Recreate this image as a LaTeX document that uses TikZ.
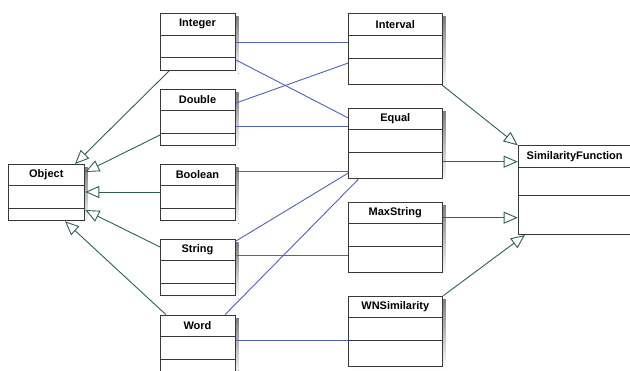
\documentclass[tikz,border=0pt]{standalone}
\usepackage{fontspec}
\setmainfont{Liberation Sans}
\usetikzlibrary{arrows.meta}
\definecolor{assoc}{HTML}{4F62B8}
\definecolor{gen}{HTML}{2F6058}
\definecolor{shade}{HTML}{B5B094}
\definecolor{frame}{HTML}{383838}
\tikzset{
  classbox/.style={draw=frame, line width=1pt, fill=white, inner sep=0pt},
  sepline/.style={draw=frame, line width=0.8pt},
  classname/.style={font=\fontsize{11}{13}\selectfont\bfseries, inner sep=0pt},
  assocline/.style={draw=assoc, line width=0.9pt},
  genline/.style={draw=gen, line width=0.9pt,
    -{Triangle[open, length=14pt, width=12pt, line width=0.9pt]}},
}
% \umlclass{name}{x}{top}{width}{head}{attr}{ops}{label}
\newcommand\umlclass[8]{%
  \fill[shade] (#2+3.5,#3+3.5) rectangle ++(#4,#5+#6+#7);
  \node[classbox, minimum width=#4pt, minimum height={(#5+#6+#7)*1pt},
        anchor=north west] (#1) at (#2,#3) {};
  \draw[sepline] (#2,#3+#5) -- ++(#4,0);
  \draw[sepline] (#2,#3+#5+#6) -- ++(#4,0);
  \node[classname] at (#2+#4/2,#3+#5/2) {#8};
}
\begin{document}
\begin{tikzpicture}[x=1pt,y=-1pt]
\useasboundingbox (0,0) rectangle (630,370);
\clip (0,0) rectangle (630,370);
\fill[white] (0,0) rectangle (630,370);

% classes
\umlclass{integer}{160}{13.3}{75}{21.7}{22.7}{12.3}{Integer}
\umlclass{double}{160}{89}{75}{21.3}{23}{12}{Double}
\umlclass{boolean}{160}{164}{75}{21.3}{23}{12}{Boolean}
\umlclass{object}{8.3}{164}{76}{21.3}{23}{12}{Object}
\umlclass{string}{160}{239.3}{75}{21.4}{22.6}{12}{String}
\umlclass{word}{160}{314.7}{75}{21.3}{23}{14}{Word}
\umlclass{interval}{348.3}{13.3}{94}{21.7}{23}{26}{Interval}
\umlclass{equal}{348.3}{107.7}{94}{21.3}{23.3}{26}{Equal}
\umlclass{maxstring}{348.3}{201.7}{94}{21.6}{22.7}{26}{MaxString}
\umlclass{wnsim}{348.3}{295.7}{94}{21.3}{23}{26}{WNSimilarity}
\umlclass{simfun}{517.7}{145.3}{114}{22}{27.7}{39}{SimilarityFunction}

% associations
\draw[assocline] ([yshift=-28.7pt]integer.north east) -- ([yshift=-28.7pt]interval.north west);
\draw[assocline] ([yshift=-46.7pt]integer.north east) -- ([yshift=-10.3pt]equal.north west);
\draw[assocline] ([yshift=-14pt]double.north east) -- ([yshift=-49.7pt]interval.north west);
\draw[assocline] ([yshift=-37pt]double.north east) -- ([yshift=-18.3pt]equal.north west);
\draw[assocline] ([yshift=-7pt]boolean.north east) -- ([yshift=-63.3pt]equal.north west);
\draw[assocline] ([yshift=-1.7pt]string.north east) -- ([yshift=-65.3pt]equal.north west);
\draw[assocline] ([xshift=65pt]word.north west) -- ([xshift=10pt]equal.south west);
\draw[assocline] ([yshift=-15.7pt]string.north east) -- ([yshift=-53.3pt]maxstring.north west);
\draw[assocline] ([yshift=-25.3pt]word.north east) -- ([yshift=-44.3pt]wnsim.north west);

% generalizations
\draw[genline] ([xshift=9pt]integer.south west) -- ([xshift=66.7pt]object.north west);
\draw[genline] ([yshift=-46pt]double.north west) -- ([yshift=-8pt]object.north east);
\draw[genline] ([yshift=-28pt]boolean.north west) -- ([yshift=-28pt]object.north east);
\draw[genline] ([yshift=-7.7pt]string.north west) -- ([yshift=-46pt]object.north east);
\draw[genline] ([xshift=6pt]word.north west) -- ([xshift=56.7pt]object.south west);
\draw[genline] ([xshift=-1.3pt]interval.south east) -- (simfun.north west);
\draw[genline] ([yshift=-54pt]equal.north east) -- ([yshift=-16.4pt]simfun.north west);
\draw[genline] ([yshift=-16pt]maxstring.north east) -- ([yshift=-72.4pt]simfun.north west);
\draw[genline] (wnsim.north east) -- ([xshift=7.3pt]simfun.south west);
\end{tikzpicture}
\end{document}
